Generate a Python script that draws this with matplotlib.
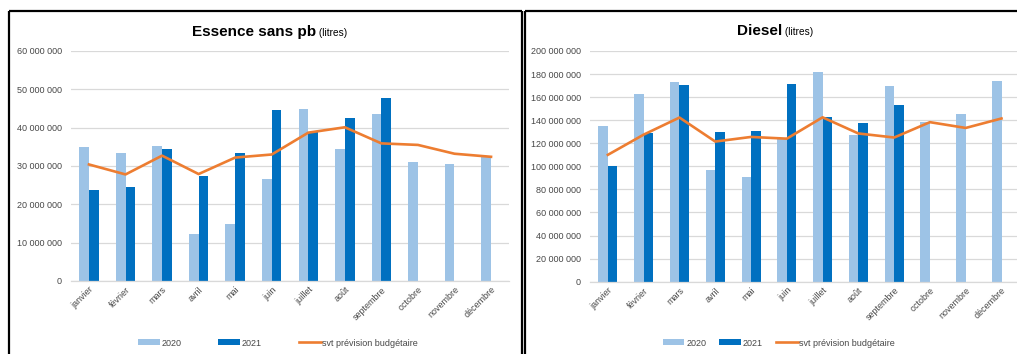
import matplotlib
matplotlib.use("Agg")
import matplotlib.pyplot as plt
from matplotlib.lines import Line2D
from matplotlib.ticker import FuncFormatter
import numpy as np

plt.rcParams["font.family"] = ["Liberation Sans", "DejaVu Sans"]

W, H = 1017, 354

months = ["janvier", "février", "mars", "avril", "mai", "juin", "juillet",
          "août", "septembre", "octobre", "novembre", "décembre"]

# Essence sans pb (litres)
ess_2020 = [35.0e6, 33.5e6, 35.3e6, 12.3e6, 15.0e6, 26.5e6, 44.8e6, 34.5e6,
            43.5e6, 31.0e6, 30.5e6, 32.5e6]
ess_2021 = [23.8e6, 24.5e6, 34.5e6, 27.3e6, 33.3e6, 44.6e6, 38.8e6, 42.6e6, 47.8e6]
ess_prev = [30.4e6, 27.8e6, 32.7e6, 27.9e6, 32.2e6, 33.0e6, 38.7e6, 40.1e6,
            35.9e6, 35.5e6, 33.2e6, 32.4e6]

# Diesel (litres)
die_2020 = [135.0e6, 162.5e6, 173.5e6, 97.0e6, 91.2e6, 124.5e6, 182.0e6, 127.0e6,
            170.0e6, 138.5e6, 145.5e6, 174.0e6]
die_2021 = [100.0e6, 129.0e6, 170.8e6, 129.5e6, 131.0e6, 171.0e6, 142.8e6, 137.5e6, 153.5e6]
die_prev = [110.0e6, 127.5e6, 142.3e6, 121.5e6, 125.5e6, 124.0e6, 142.5e6, 128.5e6,
            125.0e6, 138.3e6, 133.3e6, 141.5e6]

C20, C21, CPREV = "#9DC3E6", "#0070C0", "#ED7D31"
GREY_TXT = "#474747"

fig = plt.figure(figsize=(W / 100, H / 100), dpi=100)


def px(x0, y0, x1, y1):
    # pixel box -> figure fraction [left, bottom, width, height]
    return [x0 / W, 1 - y1 / H, (x1 - x0) / W, (y1 - y0) / H]


def draw(ax, v20, v21, prev, ymax, step):
    x = np.arange(len(months))
    w = 0.265
    b1 = ax.bar(x - w / 2, v20, w, color=C20, label="2020", zorder=2)
    b2 = ax.bar(x[:len(v21)] + w / 2, v21, w, color=C21, label="2021", zorder=2)
    ln, = ax.plot(x, prev, color=CPREV, lw=1.9, label="svt prévision budgétaire",
                  zorder=3, solid_joinstyle="round")
    ax.set_xlim(-0.5, len(months) - 0.5)
    ax.set_ylim(0, ymax)
    ax.set_yticks(np.arange(0, ymax + 1, step))
    ax.yaxis.set_major_formatter(FuncFormatter(lambda v, p: f"{v:,.0f}".replace(",", " ")))
    ax.set_xticks(x, months, rotation=45, ha="right", va="top", rotation_mode="anchor")
    ax.tick_params(length=0, labelsize=6.5, labelcolor=GREY_TXT)
    ax.tick_params(axis="y", pad=6.5)
    ax.tick_params(axis="x", pad=3)
    ax.grid(axis="y", color="#D9D9D9", lw=0.9, zorder=0)
    for s in ["top", "right", "left"]:
        ax.spines[s].set_visible(False)
    ax.spines["bottom"].set_color("#D9D9D9")
    ax.spines["bottom"].set_linewidth(0.9)
    ax.set_axisbelow(True)
    return [b1, b2, ln]


ax1 = fig.add_axes(px(70.7, 51, 509.3, 281))
h1 = draw(ax1, ess_2020, ess_2021, ess_prev, 60e6, 10e6)
ax2 = fig.add_axes(px(590, 51, 1019.4, 281.7))
h2 = draw(ax2, die_2020, die_2021, die_prev, 200e6, 20e6)

# titles: bold name + small "(litres)"
for (x0, y0, name) in [(192, 36, "Essence sans pb"), (737, 35, "Diesel")]:
    t = fig.text(x0 / W, 1 - y0 / H, name, fontsize=11, fontweight="bold",
                 ha="left", va="baseline")
    fig.add_artist(matplotlib.text.Annotation(" (litres)", xy=(1, 0.07), xycoords=t,
                                              fontsize=7.3, ha="left", va="bottom"))

# legends
labels = ["2020", "2021", "svt prévision budgétaire"]
fig.legend(h1, labels, loc="center", bbox_to_anchor=(278 / W, 1 - 343 / H), ncol=3,
           frameon=False, fontsize=6.5, labelcolor=GREY_TXT, handlelength=2.4,
           handleheight=0.6, handletextpad=0.2, columnspacing=4.1)
fig.legend(h2, labels, loc="center", bbox_to_anchor=(779 / W, 1 - 343 / H), ncol=3,
           frameon=False, fontsize=6.5, labelcolor=GREY_TXT, handlelength=2.4,
           handleheight=0.6, handletextpad=0.2, columnspacing=1.45)

# panel frames
def line(xs, ys, lw=1.6):
    fig.add_artist(Line2D([v / W for v in xs], [1 - v / H for v in ys],
                          color="black", lw=lw, solid_capstyle="butt"))

line([9, 9], [10.5, 360])
line([9, 521.5], [10.5, 10.5])
line([521.5, 521.5], [10.5, 360])
line([524.5, 524.5], [10.5, 360])
line([524.5, 1020], [10.5, 10.5])

fig.savefig("out.png", dpi=100)
